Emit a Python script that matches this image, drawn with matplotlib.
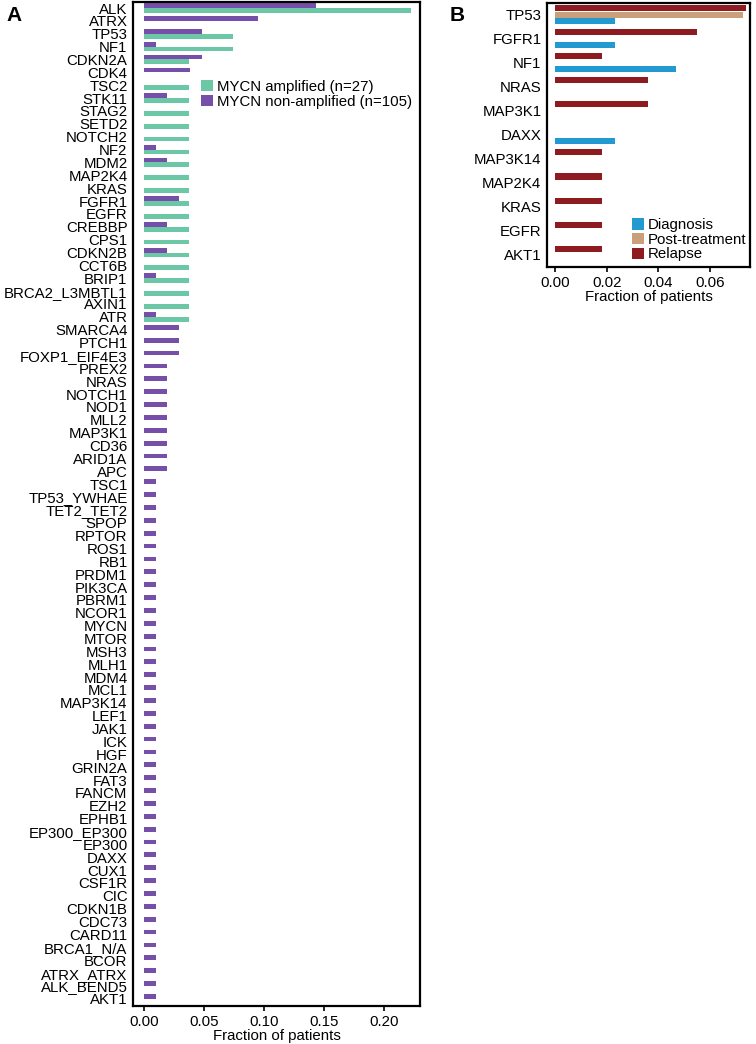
import matplotlib
matplotlib.use('Agg')
import matplotlib.pyplot as plt
import numpy as np

plt.rcParams['font.family'] = ['Liberation Sans', 'DejaVu Sans']
plt.rcParams['font.size'] = 10.8

# Panel A: MYCN status
genes_a = ['ALK', 'ATRX', 'TP53', 'NF1', 'CDKN2A', 'CDK4', 'TSC2', 'STK11', 'STAG2',
           'SETD2', 'NOTCH2', 'NF2', 'MDM2', 'MAP2K4', 'KRAS', 'FGFR1', 'EGFR',
           'CREBBP', 'CPS1', 'CDKN2B', 'CCT6B', 'BRIP1', 'BRCA2_L3MBTL1', 'AXIN1',
           'ATR', 'SMARCA4', 'PTCH1', 'FOXP1_EIF4E3', 'PREX2', 'NRAS', 'NOTCH1',
           'NOD1', 'MLL2', 'MAP3K1', 'CD36', 'ARID1A', 'APC', 'TSC1', 'TP53_YWHAE',
           'TET2_TET2', 'SPOP', 'RPTOR', 'ROS1', 'RB1', 'PRDM1', 'PIK3CA', 'PBRM1',
           'NCOR1', 'MYCN', 'MTOR', 'MSH3', 'MLH1', 'MDM4', 'MCL1', 'MAP3K14',
           'LEF1', 'JAK1', 'ICK', 'HGF', 'GRIN2A', 'FAT3', 'FANCM', 'EZH2', 'EPHB1',
           'EP300_EP300', 'EP300', 'DAXX', 'CUX1', 'CSF1R', 'CIC', 'CDKN1B', 'CDC73',
           'CARD11', 'BRCA1_N/A', 'BCOR', 'ATRX_ATRX', 'ALK_BEND5', 'AKT1']

amplified = [0.222, 0.0, 0.074, 0.074, 0.037, 0.0, 0.037, 0.037, 0.037,
             0.037, 0.037, 0.037, 0.037, 0.037, 0.037, 0.037, 0.037,
             0.037, 0.037, 0.037, 0.037, 0.037, 0.037, 0.037,
             0.037] + [0.0] * 53

non_amplified = [0.143, 0.095, 0.048, 0.0095, 0.048, 0.038, 0.0, 0.019, 0.0,
                 0.0, 0.0, 0.0095, 0.019, 0.0, 0.0, 0.029, 0.0,
                 0.019, 0.0, 0.019, 0.0, 0.0095, 0.0, 0.0,
                 0.0095, 0.029, 0.029, 0.029, 0.019, 0.019, 0.019,
                 0.019, 0.019, 0.019, 0.019, 0.019, 0.019] + [0.0095] * 41

# Panel B: timepoint
genes_b = ['TP53', 'FGFR1', 'NF1', 'NRAS', 'MAP3K1', 'DAXX', 'MAP3K14', 'MAP2K4',
           'KRAS', 'EGFR', 'AKT1']
diagnosis = [0.023, 0.023, 0.047, 0.0, 0.0, 0.023, 0.0, 0.0, 0.0, 0.0, 0.0]
post_treatment = [0.073, 0.0, 0.0, 0.0, 0.0, 0.0, 0.0, 0.0, 0.0, 0.0, 0.0]
relapse = [0.074, 0.055, 0.018, 0.036, 0.036, 0.0, 0.018, 0.018, 0.018, 0.018, 0.018]

GREEN = '#6cc7a6'
PURPLE = '#7650a8'
BLUE = '#2399d1'
TAN = '#c9a07a'
RED = '#8e1b1f'

fig = plt.figure(figsize=(7.56, 10.44), dpi=100)

# ---- Panel A ----
axA = fig.add_axes([0.176, 0.0364, 0.3796, 0.9617])
ya = np.arange(len(genes_a))
h = 0.37
axA.barh(ya + h / 2, amplified, height=h, color=GREEN, label='MYCN amplified (n=27)')
axA.barh(ya - h / 2, non_amplified, height=h, color=PURPLE, label='MYCN non-amplified (n=105)')
axA.set_yticks(ya)
axA.set_yticklabels(genes_a)
axA.set_ylim(77.56, -0.47)
axA.set_xlim(-0.0094, 0.2298)
axA.set_xticks([0.0, 0.05, 0.10, 0.15, 0.20])
axA.set_xticklabels(['0.00', '0.05', '0.10', '0.15', '0.20'])
axA.set_xlabel('Fraction of patients', labelpad=0)
axA.legend(loc='upper left', bbox_to_anchor=(0.21, 0.93), frameon=False,
           handlelength=0.8, handleheight=0.8, handletextpad=0.25,
           labelspacing=0.05, borderpad=0)

# ---- Panel B ----
axB = fig.add_axes([0.7235, 0.744, 0.2685, 0.253])
yb = np.arange(len(genes_b))
hb = 0.25
axB.barh(yb + 0.26, diagnosis, height=hb, color=BLUE, label='Diagnosis')
axB.barh(yb, post_treatment, height=hb, color=TAN, label='Post-treatment')
axB.barh(yb - 0.26, relapse, height=hb, color=RED, label='Relapse')
axB.set_yticks(yb)
axB.set_yticklabels(genes_b)
axB.set_ylim(10.52, -0.48)
axB.set_xlim(-0.0033, 0.0756)
axB.set_xticks([0.0, 0.02, 0.04, 0.06])
axB.set_xticklabels(['0.00', '0.02', '0.04', '0.06'])
axB.set_xlabel('Fraction of patients', labelpad=0)
axB.legend(loc='upper left', bbox_to_anchor=(0.38, 0.215), frameon=False,
           handlelength=0.8, handleheight=0.8, handletextpad=0.25,
           labelspacing=0.05, borderpad=0)

for ax in (axA, axB):
    for s in ax.spines.values():
        s.set_linewidth(1.6)
        s.set_color('black')
    ax.tick_params(axis='y', length=0, pad=4)
    ax.tick_params(axis='x', length=3.5, width=1.2, pad=3)

fig.text(0.009, 0.9856, 'A', fontsize=15, fontweight='bold', ha='left', va='center')
fig.text(0.595, 0.9856, 'B', fontsize=15, fontweight='bold', ha='left', va='center')

fig.savefig('out.png', dpi=100)
